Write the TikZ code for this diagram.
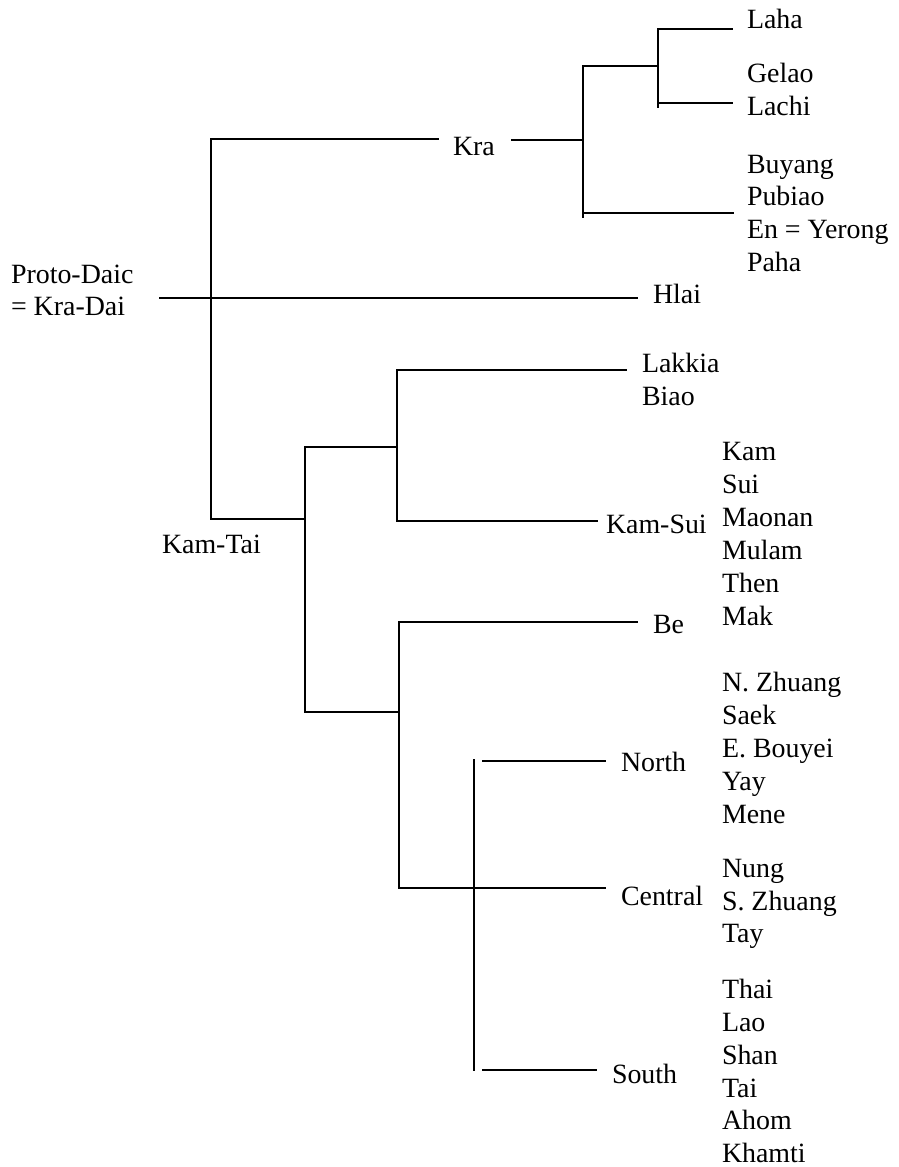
\documentclass[tikz,border=0pt]{standalone}
\usepackage{fontspec}
\setmainfont{Liberation Serif}
\begin{document}
\begin{tikzpicture}[x=1pt,y=-1pt,
  lbl/.style={anchor=base west,inner sep=0pt,outer sep=0pt,font=\fontsize{27.9}{32.7}\selectfont},
  br/.style={line width=1.35pt,line cap=rect}]
\useasboundingbox (0,0) rectangle (898,1167);
% labels
\node[lbl] (proto1) at (11,283) {Proto-Daic};
\node[lbl] (proto2) at (11,315) {= Kra-Dai};
\node[lbl] (kra) at (453,155) {Kra};
\node[lbl] (hlai) at (653,303) {Hlai};
\node[lbl] (kamtai) at (162,553) {Kam-Tai};
\node[lbl] (kamsui) at (606,533) {Kam-Sui};
\node[lbl] (be) at (653,633) {Be};
\node[lbl] (north) at (621,771) {North};
\node[lbl] (central) at (621,905) {Central};
\node[lbl] (south) at (612,1083) {South};
\foreach \n/\t/\y in {laha/Laha/28, gelao/Gelao/82, lachi/Lachi/115,
  buyang/Buyang/173, pubiao/Pubiao/205.7, en/En = Yerong/238.4, paha/Paha/271}
  \node[lbl] (\n) at (747,\y) {\t};
\foreach \n/\t/\y in {lakkia/Lakkia/372, biao/Biao/405}
  \node[lbl] (\n) at (642,\y) {\t};
\foreach \n/\t/\y in {kam/Kam/460, sui/Sui/493, maonan/Maonan/526, mulam/Mulam/559,
  then/Then/592, mak/Mak/625, nzhuang/N. Zhuang/691, saek/Saek/724,
  ebouyei/E. Bouyei/757, yay/Yay/790, mene/Mene/823,
  nung/Nung/877, szhuang/S. Zhuang/910, tay/Tay/942,
  thai/Thai/998, lao/Lao/1031, shan/Shan/1064, tai/Tai/1097, ahom/Ahom/1129, khamti/Khamti/1162}
  \node[lbl] (\n) at (722,\y) {\t};
% junction coordinates
\coordinate (r0) at (160,298);
\coordinate (rH) at (637,298);
\coordinate (rT) at (211,139);
\coordinate (rB) at (211,519);
\coordinate (kraEnd) at (438,139);
\coordinate (kraS) at (512,140);
\coordinate (kraJ) at (583,140);
\coordinate (kraT) at (583,66);
\coordinate (kraB) at (583,217);
\coordinate (glJ) at (658,66);
\coordinate (glT) at (658,29);
\coordinate (glB) at (658,107);
\coordinate (lahaE) at (732,29);
\coordinate (lachiS) at (658,103);
\coordinate (lachiE) at (732,103);
\coordinate (buyS) at (583,213);
\coordinate (buyE) at (733,213);
\coordinate (ktJ) at (305,519);
\coordinate (ktT) at (305,447);
\coordinate (ktB) at (305,712);
\coordinate (lkT) at (397,447);
\coordinate (lkTop) at (397,370);
\coordinate (lkBot) at (397,521);
\coordinate (lkE) at (626,370);
\coordinate (ksE) at (597,521);
\coordinate (twB) at (399,712);
\coordinate (twT) at (399,622);
\coordinate (twBot) at (399,888);
\coordinate (beE) at (637,622);
\coordinate (cenE) at (605,888);
\coordinate (nvT) at (474,760);
\coordinate (nvB) at (474,1070);
\coordinate (nS) at (483,761);
\coordinate (nE) at (605,761);
\coordinate (sS) at (483,1070);
\coordinate (sE) at (596,1070);
% branches
\draw[br] (r0) -- (rH);
\draw[br] (kraEnd) -- (rT) -- (rB) -- (ktJ);
\draw[br] (kraS) -- (kraJ);
\draw[br] (kraT) -- (kraB);
\draw[br] (kraT) -- (glJ);
\draw[br] (glT) -- (glB);
\draw[br] (glT) -- (lahaE);
\draw[br] (lachiS) -- (lachiE);
\draw[br] (buyS) -- (buyE);
\draw[br] (ktT) -- (ktB);
\draw[br] (ktT) -- (lkT);
\draw[br] (lkE) -- (lkTop) -- (lkBot) -- (ksE);
\draw[br] (ktB) -- (twB);
\draw[br] (beE) -- (twT) -- (twBot) -- (cenE);
\draw[br] (nvT) -- (nvB);
\draw[br] (nS) -- (nE);
\draw[br] (sS) -- (sE);
\end{tikzpicture}
\end{document}
